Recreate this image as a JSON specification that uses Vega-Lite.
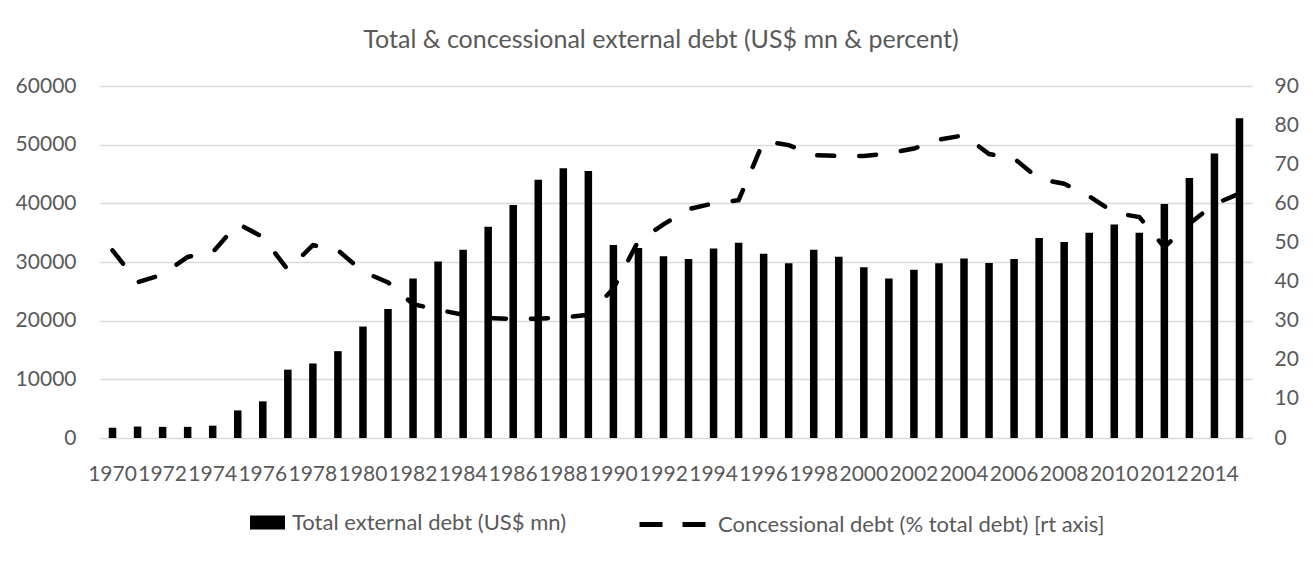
{
  "$schema": "https://vega.github.io/schema/vega-lite/v6.json",
  "autosize": "none",
  "width": 1152,
  "height": 352,
  "padding": {"left": 100, "top": 86, "right": 61, "bottom": 123},
  "background": "#ffffff",
  "config": {
    "font": "Lato",
    "view": {"stroke": null},
    "axis": {"labelFont": "Lato", "labelFontSize": 21, "labelColor": "#595959", "titleFont": "Lato"},
    "legend": {"labelFont": "Lato", "labelFontSize": 22, "labelColor": "#595959", "padding": 0, "labelLimit": 600}
  },
  "title": {
    "text": "Total & concessional external debt (US$ mn & percent)",
    "font": "Lato",
    "fontSize": 25,
    "fontWeight": "normal",
    "color": "#595959",
    "anchor": "middle",
    "offset": 22,
    "dx": -15
  },
  "data": {
    "values": [
      {"year": 1970, "debt": 1750, "conc": 48.0},
      {"year": 1971, "debt": 1950, "conc": 39.8},
      {"year": 1972, "debt": 1900, "conc": 41.8},
      {"year": 1973, "debt": 1900, "conc": 46.3},
      {"year": 1974, "debt": 2100, "conc": 47.5},
      {"year": 1975, "debt": 4700, "conc": 54.8},
      {"year": 1976, "debt": 6250, "conc": 51.4},
      {"year": 1977, "debt": 11650, "conc": 43.0},
      {"year": 1978, "debt": 12700, "conc": 49.3},
      {"year": 1979, "debt": 14800, "conc": 48.0},
      {"year": 1980, "debt": 19000, "conc": 42.5},
      {"year": 1981, "debt": 22000, "conc": 39.8},
      {"year": 1982, "debt": 27200, "conc": 34.2},
      {"year": 1983, "debt": 30100, "conc": 32.8},
      {"year": 1984, "debt": 32100, "conc": 31.5},
      {"year": 1985, "debt": 36000, "conc": 30.7},
      {"year": 1986, "debt": 39700, "conc": 30.4},
      {"year": 1987, "debt": 44000, "conc": 30.5},
      {"year": 1988, "debt": 46000, "conc": 30.8},
      {"year": 1989, "debt": 45500, "conc": 31.5},
      {"year": 1990, "debt": 32900, "conc": 38.2},
      {"year": 1991, "debt": 32400, "conc": 50.4},
      {"year": 1992, "debt": 31000, "conc": 54.6},
      {"year": 1993, "debt": 30500, "conc": 58.5},
      {"year": 1994, "debt": 32300, "conc": 60.0},
      {"year": 1995, "debt": 33300, "conc": 60.8},
      {"year": 1996, "debt": 31400, "conc": 75.9},
      {"year": 1997, "debt": 29800, "conc": 74.9},
      {"year": 1998, "debt": 32100, "conc": 72.3},
      {"year": 1999, "debt": 30900, "conc": 72.1},
      {"year": 2000, "debt": 29100, "conc": 72.1},
      {"year": 2001, "debt": 27200, "conc": 72.8},
      {"year": 2002, "debt": 28700, "conc": 74.0},
      {"year": 2003, "debt": 29800, "conc": 76.3},
      {"year": 2004, "debt": 30600, "conc": 77.4},
      {"year": 2005, "debt": 29850, "conc": 72.6},
      {"year": 2006, "debt": 30500, "conc": 71.5},
      {"year": 2007, "debt": 34100, "conc": 66.2},
      {"year": 2008, "debt": 33400, "conc": 65.0},
      {"year": 2009, "debt": 35000, "conc": 61.8},
      {"year": 2010, "debt": 36400, "conc": 57.6},
      {"year": 2011, "debt": 35000, "conc": 56.5},
      {"year": 2012, "debt": 39900, "conc": 48.8},
      {"year": 2013, "debt": 44300, "conc": 54.8},
      {"year": 2014, "debt": 48500, "conc": 59.8},
      {"year": 2015, "debt": 54500, "conc": 62.5}
    ]
  },
  "encoding": {
    "x": {
      "field": "year",
      "type": "ordinal",
      "scale": {"paddingInner": 0.7, "paddingOuter": 0.35},
      "axis": {
        "title": null,
        "labelAngle": 0,
        "values": [1970,1972,1974,1976,1978,1980,1982,1984,1986,1988,1990,1992,1994,1996,1998,2000,2002,2004,2006,2008,2010,2012,2014],
        "labelOverlap": false,
        "labelPadding": 25,
        "domain": false,
        "ticks": false,
        "grid": false
      }
    }
  },
  "layer": [
    {
      "mark": {"type": "bar", "color": "#000000"},
      "encoding": {
        "y": {
          "field": "debt",
          "type": "quantitative",
          "scale": {"domain": [0, 60000], "nice": false},
          "axis": {
            "title": null,
            "values": [0,10000,20000,30000,40000,50000,60000],
            "format": "d",
            "domain": false,
            "ticks": false,
            "grid": true,
            "gridColor": "#d9d9d9",
            "gridWidth": 1.5,
            "labelPadding": 24
          }
        },
        "color": {
          "datum": "Total external debt (US$ mn)",
          "type": "nominal",
          "scale": {"range": ["#000000"]},
          "legend": {
            "title": null,
            "orient": "none",
            "legendX": 150,
            "legendY": 419,
            "symbolType": "M-1,-0.4H1V0.4H-1Z",
            "symbolSize": 1225,
            "symbolStrokeWidth": 0,
            "labelOffset": 7
          }
        }
      }
    },
    {
      "mark": {"type": "line", "color": "#000000", "strokeWidth": 4.5, "strokeDash": [17, 25], "strokeCap": "round"},
      "encoding": {
        "y": {
          "field": "conc",
          "type": "quantitative",
          "scale": {"domain": [0, 90], "nice": false},
          "axis": {
            "orient": "right",
            "title": null,
            "values": [0,10,20,30,40,50,60,70,80,90],
            "domain": false,
            "ticks": false,
            "grid": false,
            "labelPadding": 22
          }
        },
        "opacity": {
          "datum": "Concessional debt (% total debt) [rt axis]",
          "type": "ordinal",
          "scale": {"range": [1]},
          "legend": {
            "title": null,
            "orient": "none",
            "legendX": 537,
            "legendY": 403,
            "symbolType": "stroke",
            "symbolSize": 4356,
            "symbolStrokeColor": "#000000",
            "symbolStrokeWidth": 5,
            "symbolDash": [23, 20],
            "labelOffset": 10
          }
        }
      }
    }
  ],
  "resolve": {"scale": {"y": "independent"}}
}
